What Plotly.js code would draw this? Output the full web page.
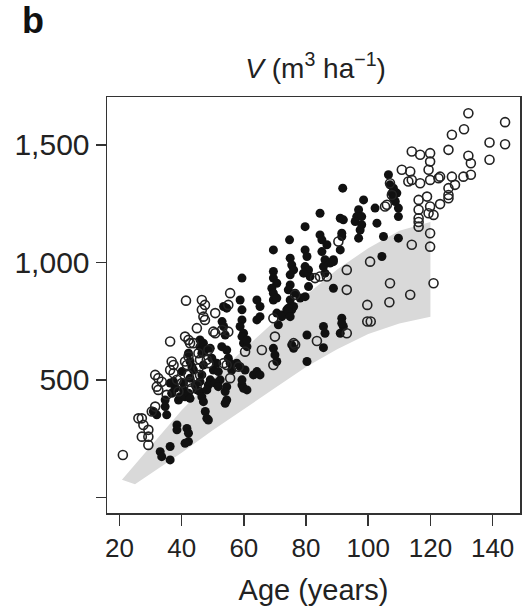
<!DOCTYPE html>
<html>
<head>
<meta charset="utf-8">
<script src="https://cdn.plot.ly/plotly-3.0.1.min.js"></script>
<style>html,body{margin:0;padding:0;background:#fff;}#chart{width:526px;height:609px;}</style>
</head>
<body>
<div id="chart"></div>
<script>
// Open circles (age in years, V in m3/ha)
const openAge = [21.1,26.1,27.2,27.7,29.3,27.2,29.3,29.3,31.5,32.5,32,32.5,31.5,30.4,35.2,36.3,36.8,37.4,36.3,37.4,38.5,41.1,42.2,42.7,43.8,41.1,41.7,42.2,42.7,43.3,45.4,45.9,45.4,45.9,44.9,46.5,47.5,46.5,47,47.5,50.8,50.2,50.8,48.1,48.6,53.5,54.5,55,55,55.6,58.3,60.4,65.8,69.5,70,69.5,76,76.5,41.4,55.6,33.6,42.2,48.6,40.1,44.9,53,39,90.4,82.9,84.5,86.7,93.1,93.1,76.5,83.5,93.1,114,116.7,119.9,119.9,119.4,110.8,113.5,114,112.9,116.7,119.9,122.6,107,107.6,116.2,118.9,119.9,119.4,116.2,116.2,116.2,119.9,119.9,105.4,106,114,100.6,107,121,113.5,132.2,144,130.8,126.9,139,144,125.8,139,132.2,133,123.1,126.9,130.6,133,127.9,125.8,125.8,125.8,123.1,121,106.8,99.7,99.7,100.8,116.2];
const openV = [180,336,336,308,287,258,258,223,521,507,471,457,386,365,436,663,578,563,542,528,500,684,670,656,656,578,563,521,492,464,613,585,549,521,720,840,819,798,769,755,784,705,698,585,571,571,563,819,705,507,556,620,627,563,684,762,656,649,837,869,492,599,627,486,478,712,450,1089,933,940,940,968,883,862,665,698,1472,1458,1465,1429,1394,1394,1387,1351,1344,1337,1351,1358,1337,1287,1266,1280,1238,1209,1224,1188,1152,1124,1067,1238,1245,1075,1003,911,911,862,1635,1597,1567,1543,1510,1503,1479,1437,1454,1422,1365,1365,1365,1373,1330,1316,1287,1273,1248,1202,830,819,748,748,1172];

// Filled circles
const filledAge = [33.1,33.6,36.3,36.3,38.5,38.5,41.7,42.2,42.2,41.1,47.6,48.1,48.6,30.9,32,35.2,34.7,37.4,37.9,36.8,39,39.5,40.6,41.1,42.2,42.7,40.1,40.6,42.2,42.7,43.3,43.8,42.7,44.3,44.9,45.9,46.5,47,45.9,46.5,47,45.9,45.9,47,47.5,46.5,49.2,49.7,50.2,49.2,48.6,48.1,51.3,51.8,52.4,50.8,51.8,53.5,54,52.9,54.5,55,53.5,54.5,54.5,54.5,54,58.8,59.4,59.4,58.8,59.9,59.9,61,57.7,58.8,60.4,59.4,59.9,61,63.1,64.2,65.2,64.2,64.2,65.2,69.5,70.6,71.1,69.5,70,70.6,72.2,73.8,75.4,75.4,76,80.3,74.9,54,59.4,53,59.4,61,55.6,56.1,36.3,59.4,91.8,84.5,79.7,91,92,84.5,85.1,86.7,85.1,91.5,91,69.5,74.7,74.9,75.4,76,74.9,79.7,80.3,79.7,86.1,87.7,88.8,85.6,86.1,80.8,81.3,79.2,69.5,69.5,70.6,69,74.9,74.3,80.8,78.1,79.7,69.5,70.6,76,74.3,72.2,65.2,88.8,91.5,92,80.3,85.6,86.1,91,106.5,107,108.1,107.6,109.2,108.1,108.7,109.7,109.7,98.5,102.2,96.9,96.3,97.9,95.8,97.9,97.4,91.5,102.8,96.9,104.9,109.7,88.8,104.4,76.5,74.3,74.9,91.5,85.6,34.7];
const filledV = [194,173,216,159,308,287,293,273,237,230,365,336,329,365,351,351,386,492,464,443,414,428,457,428,443,421,535,486,613,578,556,542,507,478,457,450,428,407,492,521,563,641,670,656,627,613,634,592,542,500,478,457,571,535,500,486,471,727,691,641,627,592,812,805,471,414,400,840,798,755,727,698,656,641,571,556,542,478,464,457,521,840,812,755,535,521,840,784,734,634,606,578,776,798,798,649,634,578,840,450,933,748,684,670,571,542,486,500,1316,1209,1152,1188,1181,1117,1096,1075,1046,1110,1053,1053,1096,1018,989,968,947,1053,1025,982,1011,997,1011,982,954,968,940,954,961,933,911,890,904,883,897,848,854,869,848,812,805,769,769,890,762,727,691,727,698,698,1373,1330,1316,1295,1295,1273,1259,1231,1195,1266,1231,1224,1195,1195,1174,1160,1138,1124,1167,1103,1110,1103,1003,1025,869,790,769,741,637,414];

// Grey band
const bandUpperAge = [20.8,25,30,40,50,60,70,80,90,100,110,120];
const bandUpper = [75,140,220,370,505,630,750,862,970,1060,1135,1172];
const bandLowerAge = [25,30,40,50,60,70,80,90,100,110,120];
const bandLower = [55,100,190,285,375,465,555,630,695,740,768];

// Axis ticks
const xTicks = [20,40,60,80,100,120,140];
const yTickVals = [0,500,1000,1500];
const yTickText = ['', '500', '1,000', '1,500'];

const bandX = bandUpperAge.concat(bandLowerAge.slice().reverse());
const bandY = bandUpper.concat(bandLower.slice().reverse());

const font = 'Liberation Sans, Arial, sans-serif';

const traces = [
  {x: bandX, y: bandY, type: 'scatter', mode: 'lines', fill: 'toself',
   fillcolor: '#d9d9d9', line: {width: 0, color: 'rgba(0,0,0,0)'}, hoverinfo: 'skip', showlegend: false},
  {x: filledAge, y: filledV, type: 'scatter', mode: 'markers',
   marker: {symbol: 'circle', size: 9, color: '#111', line: {width: 0}}, showlegend: false},
  {x: openAge, y: openV, type: 'scatter', mode: 'markers',
   marker: {symbol: 'circle-open', size: 9, color: '#222', line: {width: 1.6, color: '#222'}}, showlegend: false}
];

const layout = {
  width: 526, height: 609,
  margin: {l: 107, r: 6, t: 97, b: 96},
  paper_bgcolor: '#fff', plot_bgcolor: '#fff',
  font: {family: font, color: '#222', size: 26},
  title: {text: '<i>V</i> (m<sup>3</sup> ha<sup>−1</sup>)', font: {family: font, size: 28, color: '#222'},
          x: 0.6, xanchor: 'center', y: 0.888, yref: 'container', yanchor: 'middle'},
  xaxis: {range: [16.0, 148.8], tickvals: xTicks, ticks: 'outside', ticklen: 11, tickwidth: 1.5,
          tickcolor: '#333', showline: true, linecolor: '#333', linewidth: 1.5, mirror: true,
          showgrid: false, zeroline: false, tickfont: {size: 26, family: font, color: '#222'},
          title: {text: 'Age (years)', font: {size: 29, family: font, color: '#222'}, standoff: 18}},
  yaxis: {range: [-67, 1704], tickvals: yTickVals, ticktext: yTickText, ticks: 'outside', ticklen: 10, tickwidth: 1.5,
          tickcolor: '#333', showline: true, linecolor: '#333', linewidth: 1.5, mirror: true,
          showgrid: false, zeroline: false, tickfont: {size: 30, family: font, color: '#222'}},
  annotations: [
    {text: '<b>b</b>', xref: 'paper', yref: 'paper', x: -0.18, y: 1.185, showarrow: false,
     font: {size: 36, family: font, color: '#111'}, xanchor: 'center', yanchor: 'middle'}
  ]
};

Plotly.newPlot('chart', traces, layout, {displayModeBar: false, staticPlot: true});
</script>
</body>
</html>
